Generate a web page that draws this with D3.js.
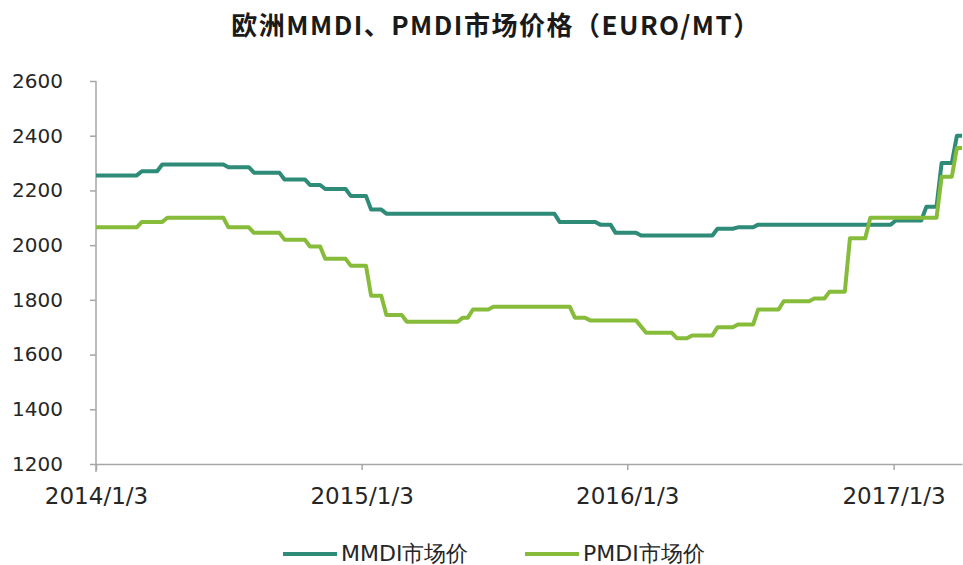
<!DOCTYPE html>
<html>
<head>
<meta charset="utf-8">
<script src="https://cdn.jsdelivr.net/npm/d3@7"></script>
<style>
body { margin: 0; background: #fff; }
svg { display: block; }
</style>
</head>
<body>
<svg width="963" height="565"></svg>
<script>
// change points of the weekly series (start and end of every flat run)
let mmdiDates = ["2014-01-03","2014-02-28","2014-03-07","2014-03-28","2014-04-04","2014-06-27","2014-07-04","2014-08-01",
  "2014-08-08","2014-09-12","2014-09-19","2014-10-17","2014-10-24","2014-11-07","2014-11-14","2014-12-12",
  "2014-12-19","2015-01-09","2015-01-16","2015-01-30","2015-02-06","2015-09-25","2015-10-02","2015-11-20",
  "2015-11-27","2015-12-11","2015-12-18","2016-01-15","2016-01-22","2016-04-29","2016-05-06","2016-05-27",
  "2016-06-03","2016-06-24","2016-07-01","2016-12-30","2017-01-06","2017-02-10","2017-02-17","2017-03-03",
  "2017-03-10","2017-03-24","2017-03-31","2017-04-07"];
let mmdiValues = [2255,2255,2270,2270,2295,2295,2285,2285,
  2265,2265,2240,2240,2220,2220,2205,2205,
  2180,2180,2130,2130,2115,2115,2085,2085,
  2075,2075,2045,2045,2035,2035,2060,2060,
  2065,2065,2075,2075,2090,2090,2140,2140,
  2300,2300,2400,2400];

let pmdiDates = ["2014-01-03","2014-02-28","2014-03-07","2014-04-04","2014-04-11","2014-06-27","2014-07-04","2014-08-01",
  "2014-08-08","2014-09-12","2014-09-19","2014-10-17","2014-10-24","2014-11-07","2014-11-14","2014-12-12",
  "2014-12-19","2015-01-09","2015-01-16","2015-01-30","2015-02-06","2015-02-27","2015-03-06","2015-05-15",
  "2015-05-22","2015-05-29","2015-06-05","2015-06-26","2015-07-03","2015-10-16","2015-10-23","2015-11-06",
  "2015-11-13","2016-01-15","2016-01-29","2016-03-04","2016-03-11","2016-03-25","2016-04-01","2016-04-29",
  "2016-05-06","2016-05-27","2016-06-03","2016-06-24","2016-07-01","2016-07-29","2016-08-05","2016-09-09",
  "2016-09-16","2016-09-30","2016-10-07","2016-10-28","2016-11-04","2016-11-25","2016-12-02","2017-03-03",
  "2017-03-10","2017-03-24","2017-03-31","2017-04-07"];
let pmdiValues = [2065,2065,2085,2085,2100,2100,2065,2065,
  2045,2045,2020,2020,1995,1995,1950,1950,
  1925,1925,1815,1815,1745,1745,1720,1720,
  1735,1735,1765,1765,1775,1775,1735,1735,
  1725,1725,1680,1680,1660,1660,1670,1670,
  1700,1700,1710,1710,1765,1765,1795,1795,
  1805,1805,1830,1830,2025,2025,2100,2100,
  2250,2250,2355,2355];

let seriesNames = ["MMDI市场价", "PMDI市场价"];
let seriesColors = ["#2e8b78", "#86bc3a"];
let yTicks = [1200,1400,1600,1800,2000,2200,2400,2600];
let xTickDates = ["2014-01-03","2015-01-03","2016-01-03","2017-01-03"];
let title = "欧洲MMDI、PMDI市场价格（EURO/MT）";

let parse = d3.timeParse("%Y-%m-%d");
let fmt = d3.timeFormat("%Y/%-m/%-d");

let svg = d3.select('svg');
let axisColor = "#a6a6a6";
let tickFont = "'DejaVu Sans', sans-serif";

let x = d3.scaleTime().domain([parse("2014-01-03"), parse("2017-04-07")]).range([96, 962]);
let y = d3.scaleLinear().domain([1200, 2600]).range([464, 81]);

svg.append('text').attr('x', 496).attr('y', 35).attr('text-anchor', 'middle')
  .style('font-family', "'Noto Sans CJK SC', sans-serif").style('font-weight', 'bold')
  .style('font-size', '26px').style('letter-spacing', '1.5px').attr('fill', '#1a1a1a').text(title);

let yAxis = svg.append('g').attr('transform', 'translate(96,0)')
  .call(d3.axisLeft(y).tickValues(yTicks).tickFormat(d3.format("d")).tickSize(6).tickSizeOuter(0).tickPadding(27));
yAxis.select('.domain').attr('stroke', axisColor).attr('stroke-width', 1.5).attr('d', 'M0,' + y(2600) + 'V' + (y(1200) + 8));
yAxis.selectAll('.tick line').attr('stroke', axisColor).attr('stroke-width', 1.5);
yAxis.selectAll('.tick text').style('font-family', tickFont).style('font-size', '20px').attr('fill', '#262626');

let xAxis = svg.append('g').attr('transform', 'translate(0,464)')
  .call(d3.axisBottom(x).tickValues(xTickDates.map(parse)).tickFormat(fmt).tickSize(6).tickSizeOuter(0).tickPadding(18));
xAxis.select('.domain').attr('stroke', axisColor).attr('stroke-width', 1.5);
xAxis.selectAll('.tick line').attr('stroke', axisColor).attr('stroke-width', 1.5);
xAxis.selectAll('.tick text').style('font-family', tickFont).style('font-size', '23px').attr('fill', '#262626');

let line = d3.line().x((d) => x(d[0])).y((d) => y(d[1]));
let series = [
  mmdiDates.map((d, i) => [parse(d), mmdiValues[i]]),
  pmdiDates.map((d, i) => [parse(d), pmdiValues[i]])
];

series.forEach(function(s, i){
  svg.append('path').datum(s).attr('d', line).attr('fill', 'none')
    .attr('stroke', seriesColors[i]).attr('stroke-width', 4).attr('stroke-linejoin', 'round');
});

// legend
let legendX = [283, 525];
seriesNames.forEach(function(name, i){
  let g = svg.append('g').attr('transform', 'translate(' + legendX[i] + ',554)');
  g.append('line').attr('x1', 0).attr('x2', 54).attr('stroke', seriesColors[i]).attr('stroke-width', 4);
  g.append('text').attr('x', 58).attr('y', 7).style('font-family', tickFont).style('font-size', '22px')
    .attr('fill', '#262626').text(name);
});
</script>
</body>
</html>
